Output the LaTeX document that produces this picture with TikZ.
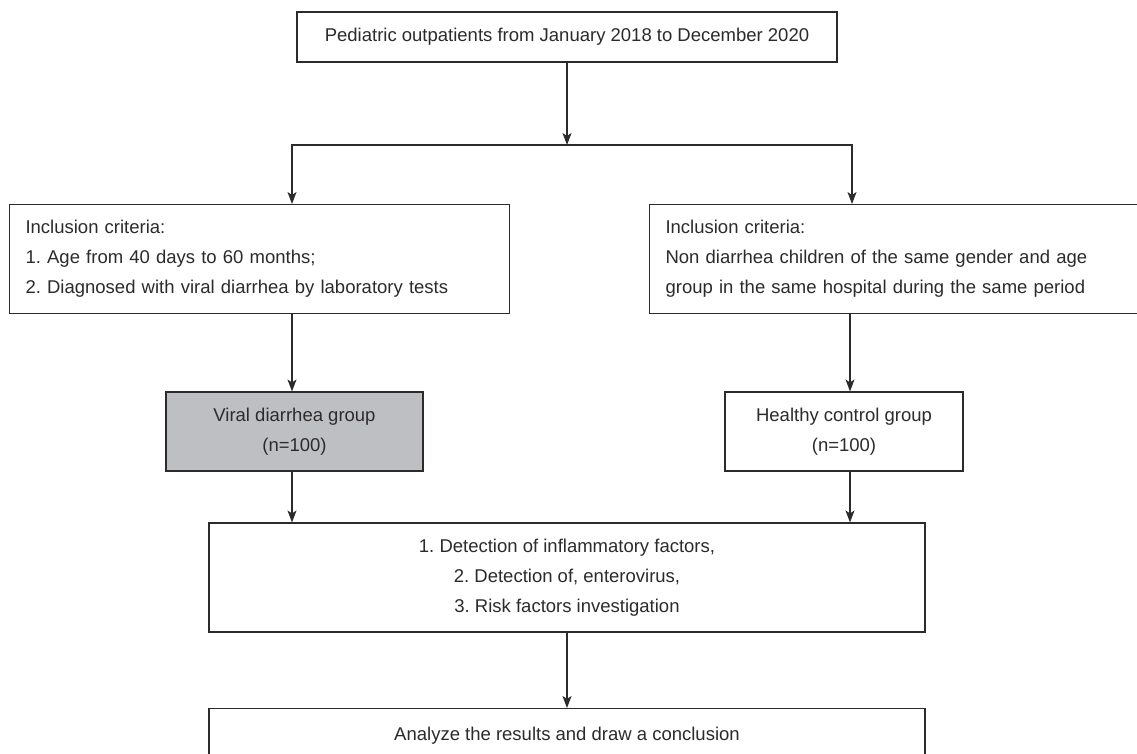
\documentclass[tikz,border=0pt]{standalone}
\usepackage{fontspec}
\setmainfont{Liberation Sans}
\usetikzlibrary{arrows.meta,positioning,calc}
\definecolor{ink}{RGB}{45,42,43}
\definecolor{boxgray}{RGB}{190,191,195}
\begin{document}
\frenchspacing
\begin{tikzpicture}[x=1pt,y=-1pt,
  every node/.style={font=\fontsize{18.5}{30}\selectfont\frenchspacing, text=ink},
  flowbox/.style={draw=ink, line width=1.1pt, rectangle, inner sep=0pt, align=center},
  leftbox/.style={draw=ink, line width=1.1pt, rectangle, inner xsep=16pt, inner ysep=0pt, align=left},
  conn/.style={draw=ink, line width=1.1pt},
  arr/.style={conn, -{Stealth[length=12pt,width=9pt,inset=3pt]}}]
\useasboundingbox (0,0) rectangle (1137,754);
\fill[white] (0,0) rectangle (1137,754);
% boxes
\node[flowbox, minimum width=540pt, minimum height=50pt] (top) at (567,37) {Pediatric outpatients from January 2018 to December 2020};
\node[leftbox, text width=468pt, minimum height=109pt, anchor=north west] (incl) at (9,204) {Inclusion criteria:\\1. Age from 40 days to 60 months;\\2. Diagnosed with viral diarrhea by laboratory tests};
\node[leftbox, text width=520pt, minimum height=109pt, anchor=north west] (ctrl) at (649,204) {Inclusion criteria:\\Non diarrhea children of the same gender and age\\group in the same hospital during the same period};
\node[flowbox, fill=boxgray, minimum width=257pt, minimum height=79pt] (viral) at (294.5,431.5) {Viral diarrhea group\\(n=100)};
\node[flowbox, minimum width=238pt, minimum height=79pt] (healthy) at (844,431.5) {Healthy control group\\(n=100)};
\node[flowbox, minimum width=716pt, minimum height=109pt] (det) at (567,577.5) {1. Detection of inflammatory factors,\\2. Detection of, enterovirus,\\3. Risk factors investigation};
\node[flowbox, minimum width=716pt, minimum height=100pt, anchor=north] (ana) at (567,708) {};
\node (anatext) at (567,736) {Analyze the results and draw a conclusion};
% connectors
\coordinate (split) at (567,145);
\draw[arr] (top.south -| split) -- (split);
\draw[arr] (split) -- (292,145) -- (incl.north -| 292,0);
\draw[arr] (split) -- (852,145) -- (ctrl.north -| 852,0);
\draw[arr] (incl.south -| 292,0) -- (viral.north -| 292,0);
\draw[arr] (ctrl.south -| 850,0) -- (healthy.north -| 850,0);
\draw[arr] (viral.south -| 292,0) -- (det.north -| 292,0);
\draw[arr] (healthy.south -| 850,0) -- (det.north -| 850,0);
\draw[arr] (det.south) -- (ana.north);
\end{tikzpicture}
\end{document}
